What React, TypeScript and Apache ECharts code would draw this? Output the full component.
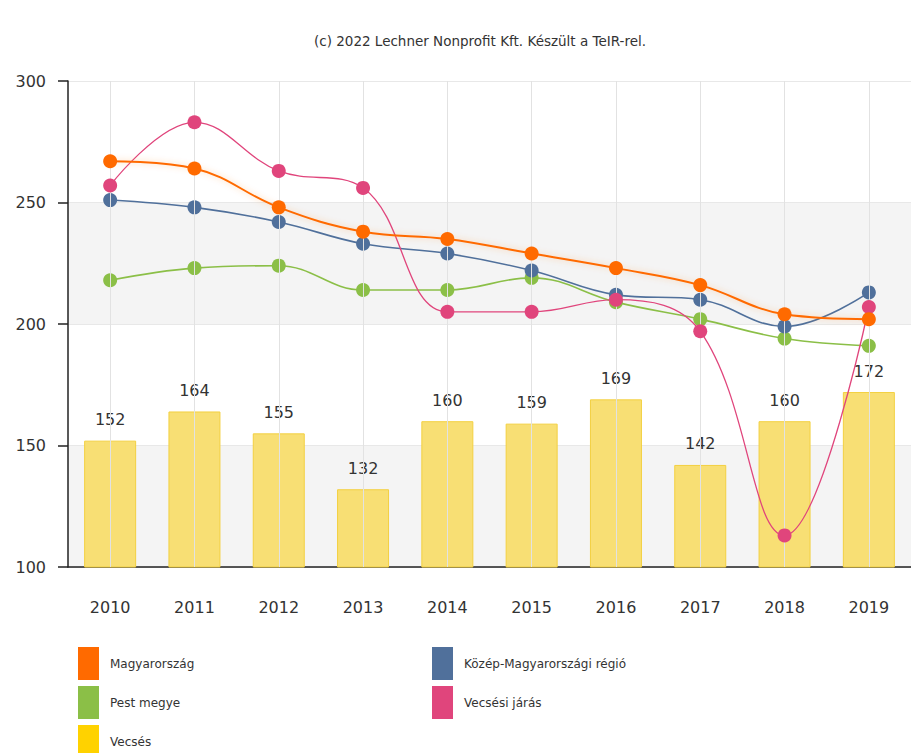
import React, { useEffect, useRef } from "react";
import * as echarts from "echarts";

const years = ["2010", "2011", "2012", "2013", "2014", "2015", "2016", "2017", "2018", "2019"];
const magyarorszag = [267, 264, 248, 238, 235, 229, 223, 216, 204, 202];
const kozepRegio = [251, 248, 242, 233, 229, 222, 212, 210, 199, 213];
const pestMegye = [218, 223, 224, 214, 214, 219, 209, 202, 194, 191];
const vecsesiJaras = [257, 283, 263, 256, 205, 205, 210, 197, 113, 207];
const vecses = [152, 164, 155, 132, 160, 159, 169, 142, 160, 172];

const FONT = "'DejaVu Sans', Verdana, sans-serif";

// One legend entry per component, so each can be placed in its own cell
const legendEntry = (item: any, left: number, top: number) => ({
  orient: "vertical",
  left,
  top,
  padding: 0,
  icon: "rect",
  itemWidth: 21,
  itemHeight: 33,
  itemStyle: { borderWidth: 0 },
  textStyle: { fontSize: 12, color: "#333", fontFamily: FONT, padding: [0, 0, 0, 6] },
  data: [item],
});

export default function App() {
  const ref = useRef<HTMLDivElement>(null);

  useEffect(() => {
    if (!ref.current) return;
    const chart = echarts.init(ref.current, null, { renderer: "svg" });

    const lineSeries = (name: string, data: number[], color: string, z: number, extra: any = {}) => ({
      name,
      type: "line",
      data,
      z,
      smooth: 0.4,
      symbol: "circle",
      symbolSize: 14,
      itemStyle: { color, borderWidth: 0 },
      lineStyle: { color, width: 1.6, ...extra },
    });

    chart.setOption({
      animation: false,
      backgroundColor: "#ffffff",
      textStyle: { fontFamily: FONT },
      title: {
        text: "(c) 2022 Lechner Nonprofit Kft. Készült a TeIR-rel.",
        left: 480,
        top: 34,
        padding: 0,
        textAlign: "center",
        textStyle: { fontSize: 13.5, fontWeight: "normal", color: "#333", fontFamily: FONT },
      },
      grid: { left: 68, top: 81, width: 847, height: 486 },
      legend: [
        legendEntry("Magyarország", 78, 647),
        legendEntry("Pest megye", 78, 686),
        legendEntry({ name: "Vecsés", itemStyle: { color: "#ffd200", borderWidth: 0 } }, 78, 725),
        legendEntry("Közép-Magyarországi régió", 432, 647),
        legendEntry("Vecsési járás", 432, 686),
      ],
      xAxis: {
        type: "category",
        data: years,
        boundaryGap: true,
        axisLine: { lineStyle: { color: "#222", width: 1.5 } },
        axisTick: { alignWithLabel: true, length: 8, lineStyle: { color: "#222", width: 1.5 } },
        axisLabel: { fontSize: 16, color: "#333", margin: 32, fontFamily: FONT },
        splitLine: { show: false },
      },
      yAxis: {
        type: "value",
        min: 100,
        max: 300,
        interval: 50,
        axisLine: { show: true, lineStyle: { color: "#222", width: 1.5 } },
        axisTick: { show: true, length: 10, lineStyle: { color: "#222", width: 1.5 } },
        axisLabel: { fontSize: 16, color: "#333", margin: 22, fontFamily: FONT },
        splitLine: { show: true, lineStyle: { color: "#e8e8e8", width: 1 } },
        splitArea: { show: true, areaStyle: { color: ["#f4f4f4", "#ffffff"] } },
      },
      series: [
        {
          name: "Vecsés",
          type: "bar",
          data: vecses,
          barWidth: 52,
          z: 1,
          itemStyle: { color: "#f8df74", borderColor: "#f3d040", borderWidth: 1 },
          label: {
            show: true,
            position: "top",
            distance: 13,
            fontSize: 16,
            color: "#333",
            fontFamily: FONT,
          },
          markLine: {
            silent: true,
            symbol: "none",
            label: { show: false },
            lineStyle: { color: "#e2e2e2", type: "solid", width: 1 },
            data: years.map((y) => ({ xAxis: y })),
          },
        },
        lineSeries("Pest megye", pestMegye, "#8bbf47", 3),
        lineSeries("Közép-Magyarországi régió", kozepRegio, "#50709b", 4),
        lineSeries("Vecsési járás", vecsesiJaras, "#e0457c", 5, { width: 1.3 }),
        lineSeries("Magyarország", magyarorszag, "#ff6a00", 6, {
          width: 2,
          shadowColor: "rgba(255,120,0,0.35)",
          shadowBlur: 6,
        }),
      ],
    });

    return () => chart.dispose();
  }, []);

  return (
    <div
      ref={ref}
      style={{ position: "fixed", left: 0, top: 0, width: 911, height: 753 }}
    />
  );
}
